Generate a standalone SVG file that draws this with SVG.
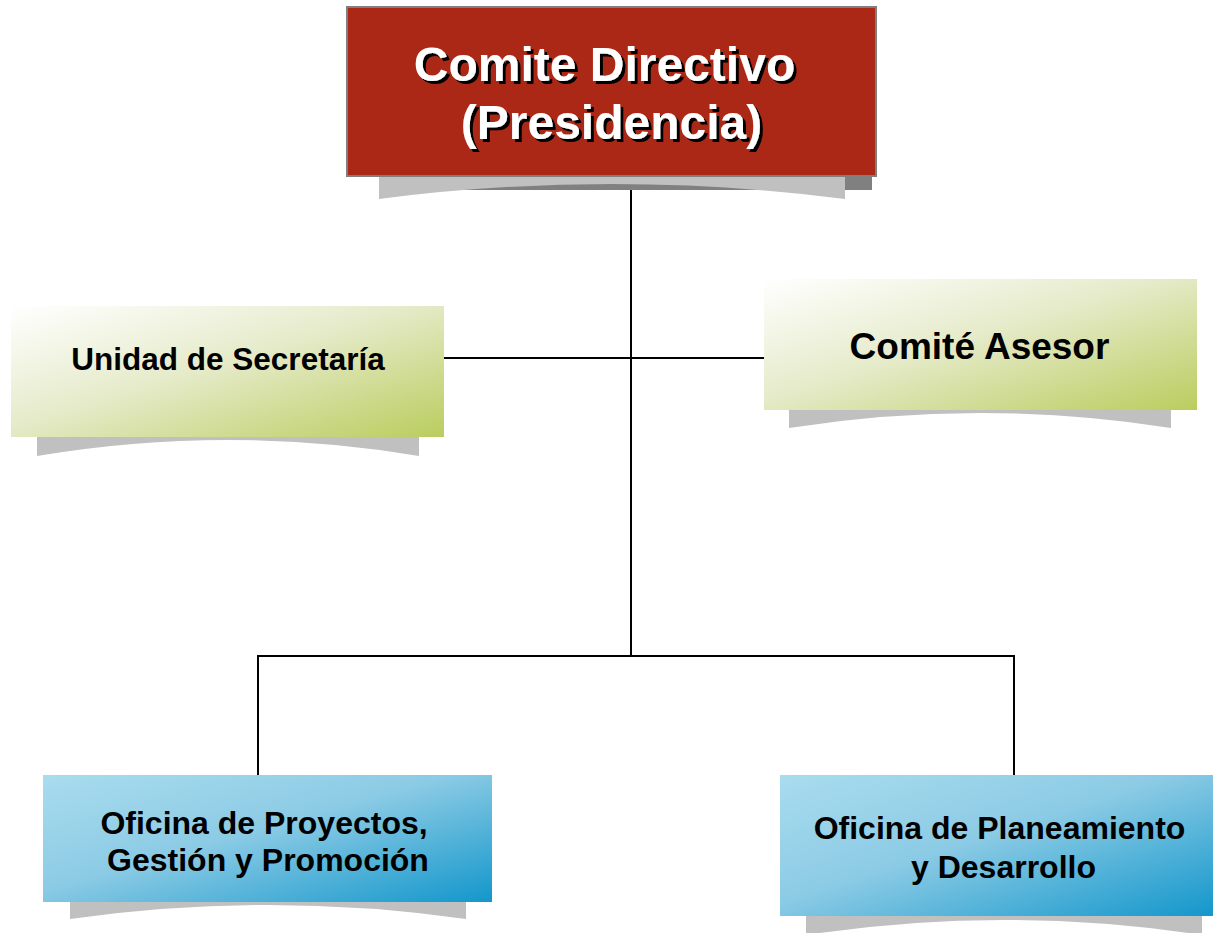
<svg xmlns="http://www.w3.org/2000/svg" width="1213" height="933" viewBox="0 0 1213 933">
<defs>
<linearGradient id="gGreen" x1="0" y1="0" x2="1" y2="1">
<stop offset="0" stop-color="#ffffff"/>
<stop offset="0.45" stop-color="#e6ebcb"/>
<stop offset="1" stop-color="#bacd5e"/>
</linearGradient>
<linearGradient id="gBlue" x1="0" y1="0" x2="1" y2="1">
<stop offset="0" stop-color="#a9dcee"/>
<stop offset="0.45" stop-color="#8ccbe5"/>
<stop offset="1" stop-color="#1397cb"/>
</linearGradient>
<filter id="txtShadow" x="-10%" y="-20%" width="120%" height="140%">
<feOffset in="SourceAlpha" dx="2.5" dy="2.5" result="off"/>
<feFlood flood-color="#000000"/>
<feComposite in2="off" operator="in" result="sh"/>
<feMerge><feMergeNode in="sh"/><feMergeNode in="SourceGraphic"/></feMerge>
</filter>
<style>
.shadow{fill:#c0c0c0;}
.dark{fill:#808080;}
.green{fill:url(#gGreen);}
.blue{fill:url(#gBlue);}
.red{fill:#ab2716;stroke:#7f7f7f;stroke-width:2;}
.lbl{font-family:"Liberation Sans",Arial,sans-serif;font-weight:bold;fill:#000;text-anchor:middle;}
.title{font-family:"Liberation Sans",Arial,sans-serif;font-weight:bold;font-size:48px;text-anchor:middle;fill:#ffffff;filter:url(#txtShadow);}
.conn{stroke:#000;stroke-width:2;fill:none;}
</style>
</defs>
<rect width="1213" height="933" fill="#ffffff"/>
<g id="connectors">
<line class="conn" x1="631" y1="176" x2="631" y2="656"/>
<line class="conn" x1="444" y1="358" x2="764" y2="358" stroke-width="1.6"/>
<polyline class="conn" points="258,775 258,656 1014,656 1014,775"/>
</g>
<g id="node-comite-directivo">
<rect class="dark" x="379" y="170" width="493" height="20"/>
<path class="shadow" d="M379,176 L845,176 L845,199 Q612,169 379,199 Z"/>
<rect class="red" x="347" y="7" width="529" height="169"/>
<text class="title" x="604.5" y="81">Comite Directivo</text>
<text class="title" x="611.5" y="139">(Presidencia)</text>
</g>
<g id="node-unidad-secretaria">
<path class="shadow" d="M37,437 L419,437 L419,456 Q228,424 37,456 Z"/>
<rect class="green" x="11" y="306" width="433" height="131"/>
<text class="lbl" x="228" y="370" font-size="31.5">Unidad de Secretaría</text>
</g>
<g id="node-comite-asesor">
<path class="shadow" d="M789,410 L1171,410 L1171,428 Q980,398 789,428 Z"/>
<rect class="green" x="764" y="279" width="433" height="131"/>
<text class="lbl" x="979.5" y="359" font-size="37">Comité Asesor</text>
</g>
<g id="node-oficina-proyectos">
<path class="shadow" d="M70,902 L466,902 L466,919 Q268,891 70,919 Z"/>
<rect class="blue" x="43" y="775" width="449" height="127"/>
<text class="lbl" x="264" y="834" font-size="32">Oficina de Proyectos,</text>
<text class="lbl" x="268" y="871" font-size="32">Gestión y Promoción</text>
</g>
<g id="node-oficina-planeamiento">
<path class="shadow" d="M806,916 L1202,916 L1202,935 Q1004,905 806,935 Z"/>
<rect class="blue" x="780" y="775" width="433" height="141"/>
<text class="lbl" x="999.5" y="839" font-size="32">Oficina de Planeamiento</text>
<text class="lbl" x="1003.5" y="878" font-size="32">y Desarrollo</text>
</g>
</svg>
